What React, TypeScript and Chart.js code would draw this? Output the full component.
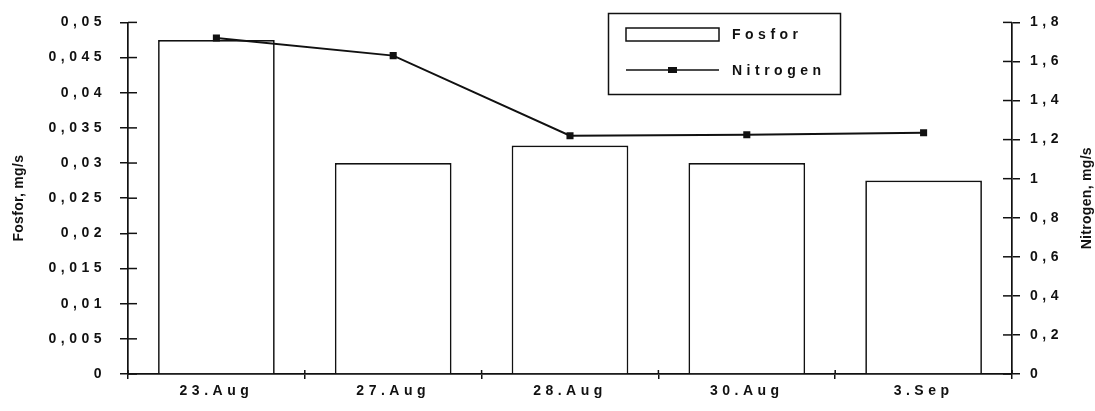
import React, { useEffect, useRef } from "react";
import { Chart, registerables } from "chart.js";

Chart.register(...registerables);

const categories = ["23.Aug", "27.Aug", "28.Aug", "30.Aug", "3.Sep"];
const fosforValues = [0.0475, 0.03, 0.0325, 0.03, 0.0275];
const nitrogenValues = [1.72, 1.63, 1.22, 1.225, 1.235];
const leftTickLabels = ["0", "0,005", "0,01", "0,015", "0,02", "0,025", "0,03", "0,035", "0,04", "0,045", "0,05"];
const rightTickLabels = ["0", "0,2", "0,4", "0,6", "0,8", "1", "1,2", "1,4", "1,6", "1,8"];
const leftTitle = "Fosfor, mg/s";
const rightTitle = "Nitrogen, mg/s";
const seriesNames = ["Fosfor", "Nitrogen"];

const INK = "#111";
const FONT = "'Liberation Sans', Arial, sans-serif";

const spacingPlugin = {
  id: "spacing",
  beforeLayout(chart: any) {
    chart.ctx.letterSpacing = "4.5px";
  },
  beforeDraw(chart: any) {
    chart.ctx.letterSpacing = "4.5px";
  },
};

const decorPlugin = {
  id: "decor",
  afterDraw(chart: any) {
    const ctx = chart.ctx as CanvasRenderingContext2D;
    const y = chart.scales.y;
    const y1 = chart.scales.y1;
    const area = chart.chartArea;
    ctx.save();
    ctx.strokeStyle = INK;
    ctx.lineWidth = 1.5;
    const line = (a: number, b: number, c: number, d: number) => {
      ctx.beginPath();
      ctx.moveTo(a, b);
      ctx.lineTo(c, d);
      ctx.stroke();
    };
    y.ticks.forEach((_t: any, i: number) => {
      const p = y.getPixelForTick(i);
      line(area.left, p, area.left + 9, p);
    });
    y1.ticks.forEach((_t: any, i: number) => {
      const p = y1.getPixelForTick(i);
      line(area.right - 9, p, area.right, p);
    });
    const n = categories.length;
    for (let i = 0; i <= n; i++) {
      const px = area.left + (i * (area.right - area.left)) / n;
      line(px, area.bottom - 4, px, area.bottom);
    }

    // axis titles
    ctx.fillStyle = INK;
    ctx.font = `bold 14px ${FONT}`;
    (ctx as any).letterSpacing = "0.3px";
    ctx.textAlign = "center";
    ctx.textBaseline = "middle";
    const cy = (area.top + area.bottom) / 2;
    ctx.save();
    ctx.translate(19, cy);
    ctx.rotate(-Math.PI / 2);
    ctx.fillText(leftTitle, 0, 0);
    ctx.restore();
    ctx.save();
    ctx.translate(1087, cy);
    ctx.rotate(-Math.PI / 2);
    ctx.fillText(rightTitle, 0, 0);
    ctx.restore();

    // legend
    ctx.fillStyle = "#fff";
    ctx.fillRect(608, 13, 233, 82);
    ctx.strokeRect(608.5, 13.5, 232, 81);
    ctx.strokeRect(626, 28, 93, 13);
    line(626, 70, 719, 70);
    ctx.fillStyle = INK;
    ctx.fillRect(668, 67, 9, 6);
    ctx.font = `bold 14px ${FONT}`;
    (ctx as any).letterSpacing = "4.5px";
    ctx.textAlign = "left";
    ctx.fillText(seriesNames[0], 732, 35);
    ctx.fillText(seriesNames[1], 732, 71);
    ctx.restore();
  },
};

export default function App() {
  const ref = useRef<HTMLCanvasElement | null>(null);
  useEffect(() => {
    if (!ref.current) return;
    const chart = new Chart(ref.current, {
      type: "bar",
      data: {
        labels: categories,
        datasets: [
          {
            type: "line",
            label: seriesNames[1],
            data: nitrogenValues,
            yAxisID: "y1",
            borderColor: INK,
            backgroundColor: INK,
            borderWidth: 2,
            pointStyle: "rect",
            pointRadius: 5,
            pointBorderWidth: 0,
            tension: 0,
            order: 0,
          } as any,
          {
            type: "bar",
            label: seriesNames[0],
            data: fosforValues,
            yAxisID: "y",
            backgroundColor: "#fff",
            borderColor: INK,
            borderWidth: 1.7,
            categoryPercentage: 1,
            barPercentage: 0.66,
            order: 1,
          },
        ],
      },
      options: {
        animation: false,
        responsive: false,
        maintainAspectRatio: false,
        layout: { padding: { top: 19, left: 0, right: 0, bottom: 0 } },
        plugins: { legend: { display: false }, tooltip: { enabled: false } },
        scales: {
          x: {
            grid: { display: true, drawOnChartArea: false, tickLength: 5, color: INK, lineWidth: 1.5 },
            border: { display: true, color: INK, width: 1.7 },
            ticks: { color: INK, font: { family: FONT, size: 14, weight: "bold" }, padding: 4, maxRotation: 0, autoSkip: false },
            afterFit: (s: any) => {
              s.height = 37;
            },
          },
          y: {
            position: "left",
            min: 0,
            max: 0.05,
            grid: { display: true, drawOnChartArea: false, tickLength: 8, color: INK, lineWidth: 1.5 },
            border: { display: true, color: INK, width: 1.7 },
            ticks: {
              stepSize: 0.005,
              color: INK,
              font: { family: FONT, size: 14, weight: "bold" },
              padding: 14,
              callback: (_v: any, i: number) => leftTickLabels[i],
            },
            afterFit: (s: any) => {
              s.width = 128;
            },
          },
          y1: {
            position: "right",
            min: 0,
            max: 1.8,
            grid: { display: true, drawOnChartArea: false, tickLength: 8, color: INK, lineWidth: 1.5 },
            border: { display: true, color: INK, width: 1.7 },
            ticks: {
              stepSize: 0.2,
              color: INK,
              font: { family: FONT, size: 14, weight: "bold" },
              padding: 10,
              callback: (_v: any, i: number) => rightTickLabels[i],
            },
            afterFit: (s: any) => {
              s.width = 83;
            },
          },
        },
      },
      plugins: [spacingPlugin, decorPlugin],
    });
    return () => chart.destroy();
  }, []);
  return (
    <div style={{ position: "fixed", left: 0, top: 0, width: 1095, height: 411, background: "#fff" }}>
      <canvas ref={ref} width={1095} height={411} style={{ width: 1095, height: 411 }} />
    </div>
  );
}
